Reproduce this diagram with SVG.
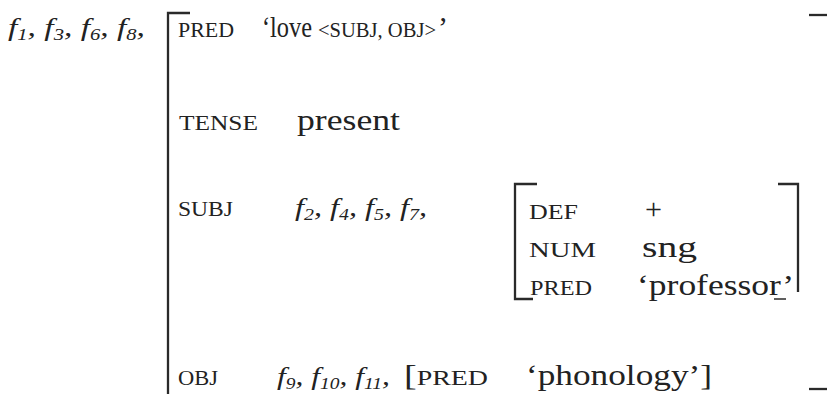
<svg xmlns="http://www.w3.org/2000/svg" width="827" height="394" viewBox="0 0 827 394">
<style>
text{font-family:"Liberation Serif","Times New Roman",serif;fill:#222;}
.lab{font-size:20px;}
.lab2{font-size:22px;}
.val{font-size:30px;}
.it{font-size:26px;font-style:italic;}
.sub{font-size:16px;}
.sc{font-size:21px;}
.br{fill:none;stroke:#2a2a2a;stroke-width:2.3;}
</style>
<rect width="827" height="394" fill="#fff"/>
<g id="outer-fs">
<path class="br" d="M190,13 H168 V394"/>
<path class="br" d="M809,15 H827"/>
<path class="br" d="M809,389 H827"/>
<text class="it" x="8" y="36" textLength="137" lengthAdjust="spacingAndGlyphs">f<tspan class="sub" dy="4">1</tspan><tspan dy="-4">, f</tspan><tspan class="sub" dy="4">3</tspan><tspan dy="-4">, f</tspan><tspan class="sub" dy="4">6</tspan><tspan dy="-4">, f</tspan><tspan class="sub" dy="4">8</tspan><tspan dy="-4">,</tspan></text>
</g>
<g id="pred-row">
<text class="lab" x="178" y="37" textLength="56" lengthAdjust="spacingAndGlyphs">PRED</text>
<text class="val" x="262" y="37" textLength="50" lengthAdjust="spacingAndGlyphs">‘love</text>
<text class="sc" x="318" y="37" textLength="118" lengthAdjust="spacingAndGlyphs">&lt;SUBJ, OBJ&gt;</text>
<text class="val" x="438" y="37">’</text>
</g>
<g id="tense-row">
<text class="lab" x="179" y="130" textLength="79" lengthAdjust="spacingAndGlyphs">TENSE</text>
<text class="val" x="297" y="130" textLength="103" lengthAdjust="spacingAndGlyphs">present</text>
</g>
<g id="subj-row">
<text class="lab" x="178" y="216" textLength="55" lengthAdjust="spacingAndGlyphs">SUBJ</text>
<text class="it" x="295" y="216" textLength="132" lengthAdjust="spacingAndGlyphs">f<tspan class="sub" dy="4">2</tspan><tspan dy="-4">, f</tspan><tspan class="sub" dy="4">4</tspan><tspan dy="-4">, f</tspan><tspan class="sub" dy="4">5</tspan><tspan dy="-4">, f</tspan><tspan class="sub" dy="4">7</tspan><tspan dy="-4">,</tspan></text>
</g>
<g id="subj-fs">
<path class="br" d="M537,184 H515 V299 H533"/>
<path class="br" d="M778,184 H798 V292"/>
<text class="lab2" x="529" y="219" textLength="49" lengthAdjust="spacingAndGlyphs">DEF</text>
<text class="val" x="645" y="219" textLength="17" lengthAdjust="spacingAndGlyphs">+</text>
<text class="lab2" x="529" y="257" textLength="67" lengthAdjust="spacingAndGlyphs">NUM</text>
<text class="val" x="642" y="257" textLength="55" lengthAdjust="spacingAndGlyphs">sng</text>
<text class="lab2" x="530" y="295" textLength="62" lengthAdjust="spacingAndGlyphs">PRED</text>
<text class="val" x="637" y="295" textLength="157" lengthAdjust="spacingAndGlyphs">‘professor’</text>
<path d="M774,299 H786" stroke="#2a2a2a" stroke-width="1.5"/>
</g>
<g id="obj-row">
<text class="lab" x="178" y="385" textLength="40" lengthAdjust="spacingAndGlyphs">OBJ</text>
<text class="it" x="277" y="385" textLength="113" lengthAdjust="spacingAndGlyphs">f<tspan class="sub" dy="4">9</tspan><tspan dy="-4">, f</tspan><tspan class="sub" dy="4">10</tspan><tspan dy="-4">, f</tspan><tspan class="sub" dy="4">11</tspan><tspan dy="-4">,</tspan></text>
<text class="val" x="404" y="385" textLength="84" lengthAdjust="spacingAndGlyphs">[<tspan class="lab2">PRED</tspan></text>
<text class="val" x="526" y="385" textLength="186" lengthAdjust="spacingAndGlyphs">‘phonology’]</text>
</g>
<g id="connectors"></g>
</svg>
